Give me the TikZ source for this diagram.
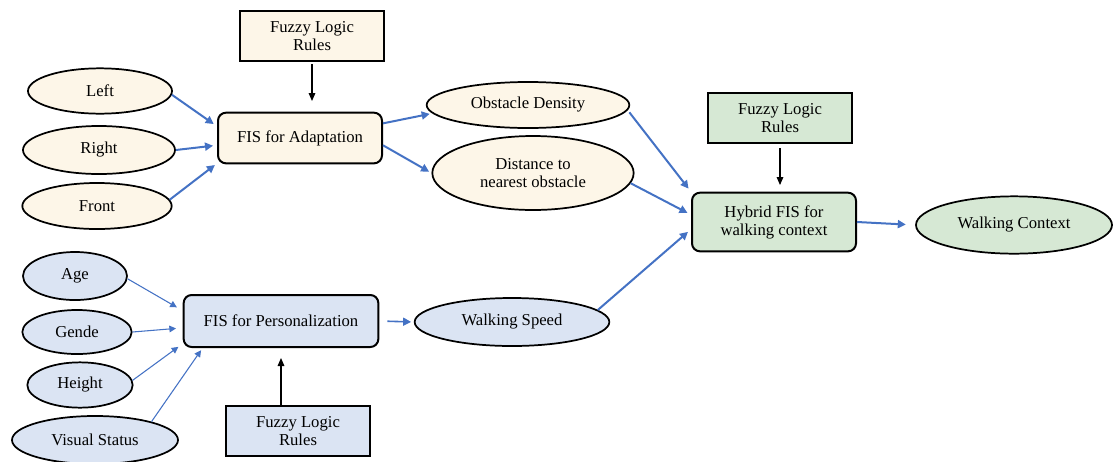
\documentclass[tikz,border=0pt]{standalone}
\usepackage{fontspec}
\setmainfont{Liberation Serif}
\usetikzlibrary{shapes.geometric,arrows.meta}
\definecolor{beige}{RGB}{253,246,232}
\definecolor{paleblue}{RGB}{219,228,243}
\definecolor{palegreen}{RGB}{214,232,212}
\definecolor{linkblue}{RGB}{68,114,196}

\begin{document}
\begin{tikzpicture}[x=0.75pt,y=-0.75pt,
	font=\rmfamily\fontsize{12.5}{13.5}\selectfont,
	var/.style={ellipse,draw,line width=1.3pt,inner sep=0pt,align=center},
	fis/.style={rectangle,draw,line width=1.5pt,rounded corners=6pt,align=center,minimum width=123pt,minimum height=38pt},
	rules/.style={rectangle,draw,line width=1.5pt,align=center,minimum width=108pt,minimum height=38pt},
	flow/.style={-{Triangle[length=6pt,width=6pt]},linkblue,line width=1.5pt},
	thinflow/.style={-{Triangle[length=5pt,width=5pt]},linkblue,line width=0.8pt},
	ruleflow/.style={-{Triangle[length=6pt,width=5pt]},black,line width=0.8pt}]
%
	\useasboundingbox (0,0) rectangle (1113,461);
%
	% adaptation part
	\node[rules,fill=beige] (rulesA) at (312,36) {Fuzzy Logic\\Rules};
	\node[var,fill=beige,minimum width=108pt,minimum height=34pt] (left) at (100,91) {Left};
	\node[var,fill=beige,minimum width=114pt,minimum height=36pt] (right) at (99,150) {Right};
	\node[var,fill=beige,minimum width=112pt,minimum height=34.5pt] (front) at (97,206) {Front};
	\node[fis,fill=beige] (fisA) at (300,138) {FIS for Adaptation};
	\node[var,fill=beige,minimum width=152pt,minimum height=34.5pt] (density) at (528,105) {Obstacle Density};
	\node[var,fill=beige,minimum width=151pt,minimum height=55.5pt] (distance) at (533,173) {Distance to\\nearest obstacle};
%
	% personalization part
	\node[var,fill=paleblue,minimum width=78pt,minimum height=36pt] (age) at (75,276) {Age};
	\node[var,fill=paleblue,minimum width=82pt,minimum height=33pt] (gender) at (77,332) {Gende};
	\node[var,fill=paleblue,minimum width=79pt,minimum height=34pt] (height) at (80,385) {Height};
	\node[var,fill=paleblue,minimum width=124.5pt,minimum height=36pt] (visual) at (95,440) {Visual Status};
	\node[fis,fill=paleblue,minimum width=146pt,minimum height=39pt] (fisP) at (281,321) {FIS for Personalization};
	\node[rules,fill=paleblue] (rulesP) at (298,431) {Fuzzy Logic\\Rules};
	\node[var,fill=paleblue,minimum width=146pt,minimum height=36pt] (speed) at (512,322) {Walking Speed};
%
	% hybrid part
	\node[rules,fill=palegreen] (rulesH) at (780,118) {Fuzzy Logic\\Rules};
	\node[fis,fill=palegreen,minimum height=44pt] (hybrid) at (774,222) {Hybrid FIS for\\walking context};
	\node[var,fill=palegreen,minimum width=147pt,minimum height=43pt] (context) at (1014,225) {Walking Context};
%
	\draw[ruleflow,shorten <=1.5pt,shorten >=8pt] (rulesA.south) -- (rulesA.south |- fisA.north);
	\draw[flow,shorten >=3pt] (left.-3) -- (fisA.172);
	\draw[flow,shorten >=3pt] (right.east) -- (fisA.185);
	\draw[flow,shorten >=2pt] (front.5) -- (fisA.197);
	\draw[flow,shorten >=2pt] (fisA.10) -- (density.185);
	\draw[flow,shorten >=2pt] (fisA.-5) -- (distance.180);
%
	\draw[thinflow,shorten >=5pt] (age.-3) -- (fisP.174);
	\draw[thinflow,shorten >=5pt] (gender.east) -- (fisP.184);
	\draw[thinflow,shorten >=4pt] (height.5) -- (fisP.193);
	\draw[thinflow,shorten >=2pt] (visual.18) -- (fisP.199);
	\draw[ruleflow,shorten >=7.5pt] (fisP.south |- rulesP.north) -- (fisP.south);
	\draw[flow,line width=1.2pt,shorten <=6pt,shorten >=2pt] (fisP.east) -- (speed.west);
%
	\draw[flow,shorten <=2pt,shorten >=3pt] (density.-3) -- (hybrid.160);
	\draw[flow,shorten >=3pt] (distance.-6) -- (hybrid.175);
	\draw[flow,shorten >=3pt] (speed.8) -- (hybrid.185);
	\draw[ruleflow,shorten <=3pt,shorten >=5pt] (rulesH.south) -- (rulesH.south |- hybrid.north);
	\draw[flow,shorten >=7pt] (hybrid.east) -- (context.west);
\end{tikzpicture}
\end{document}
